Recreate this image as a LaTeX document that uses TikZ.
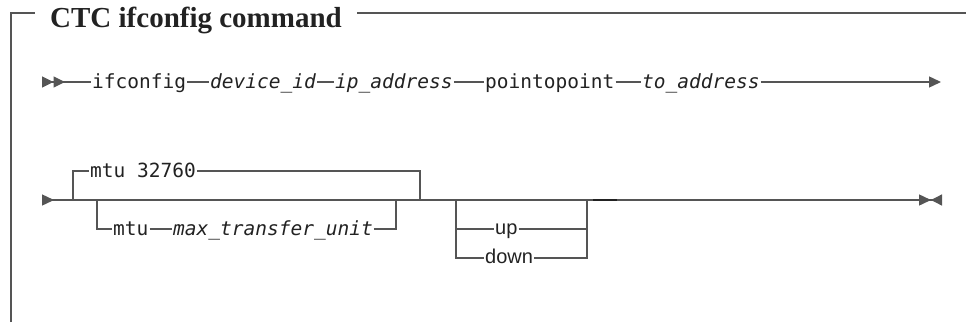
\documentclass[tikz,border=0pt]{standalone}
\usepackage{fontspec}
\setmainfont{Liberation Serif}
\setmonofont{DejaVu Sans Mono}
\newfontfamily\optfont{Liberation Sans}
\usetikzlibrary{arrows.meta}
\definecolor{railgrey}{HTML}{555555}
\definecolor{railtext}{HTML}{222222}
\begin{document}
\begin{tikzpicture}[x=1pt,y=-1pt,
  rail/.style={draw=railgrey, line width=1.4pt},
  frame/.style={draw=railgrey, line width=1.3pt},
  kw/.style={inner xsep=1pt, inner ysep=0pt, text height=13pt, text depth=0pt, text=railtext, font=\fontsize{19.5}{24}\selectfont\ttfamily},
  var/.style={kw, font=\fontsize{19.5}{24}\selectfont\ttfamily\itshape},
  opt/.style={inner xsep=1pt, inner ysep=0pt, text height=10.5pt, text depth=0pt, text=railtext, font=\fontsize{20}{24}\selectfont\optfont}]
\useasboundingbox (0,0) rectangle (966,322);
\node [anchor=base west, inner xsep=15pt, text=railtext, font=\fontsize{29}{34}\selectfont\bfseries] (ttl) at (35,27) {CTC ifconfig command};
\coordinate (fb) at (11,322);
\coordinate (ft) at (11,13);
\coordinate (fr) at (966,13);
\draw [frame] (fb) -- (ft) -- (ft -| ttl.west);
\draw [frame] (ft -| ttl.east) -- (fr);
\node [kw, anchor=west] (ifc) at (91,82) {ifconfig};
\node [var, anchor=west] (dev) at (209,82) {device\_id};
\node [var, anchor=west] (ipa) at (334,82) {ip\_address};
\node [kw, anchor=west] (ptp) at (484,82) {pointopoint};
\node [var, anchor=west] (toa) at (641,82) {to\_address};
\coordinate (s1) at (42,82);
\coordinate (e1) at (941,82);
\draw [rail, {Triangle[reversed,length=11.5pt,width=11pt]Triangle[reversed,length=11.5pt,width=11pt]}-] (s1) -- (ifc);
\draw [rail] (ifc) -- (dev) -- (ipa) -- (ptp) -- (toa);
\draw [rail, -{Triangle[length=12pt,width=11pt]}] (toa) -- (e1);
\coordinate (s2) at (42,200);
\coordinate (e2) at (942,200);
\draw [rail, {Triangle[reversed,length=12pt,width=11pt]}-{Triangle[length=12pt,width=11pt]Triangle[reversed,length=11pt,width=11pt]}] (s2) -- (e2);
\node [kw, anchor=west] (mdef) at (89,171) {mtu 32760};
\coordinate (a1) at (73,200);
\coordinate (a2) at (420,200);
\draw [rail] (a1) |- (mdef) -| (a2);
\node [kw, anchor=west] (mtu) at (112,229) {mtu};
\node [var, anchor=west] (mxu) at (172,229) {max\_transfer\_unit};
\coordinate (b1) at (97,200);
\coordinate (b2) at (396,200);
\draw [rail] (b1) |- (mtu) -- (mxu) -| (b2);
\node [opt, anchor=west] (up) at (494,229) {up};
\node [opt, anchor=west] (down) at (484,258) {down};
\coordinate (c1) at (456,200);
\coordinate (c2) at (587,200);
\draw [rail] (c1) |- (down) -| (c2);
\draw [rail] (c1) |- (up) -| (c2);
\coordinate (d1) at (593,200);
\coordinate (d2) at (617,200);
\draw [draw=railtext, line width=1.8pt] (d1) -- (d2);
\end{tikzpicture}
\end{document}
